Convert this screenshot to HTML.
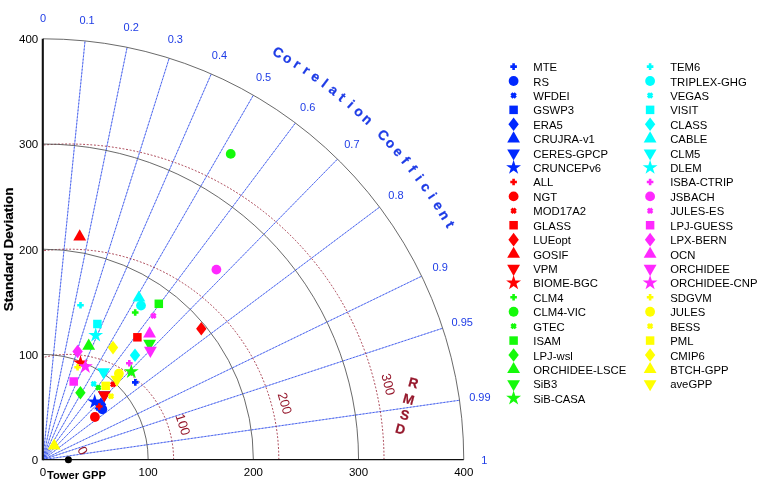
<!DOCTYPE html>
<html><head><meta charset="utf-8"><style>
html,body{margin:0;padding:0;background:#fff;width:759px;height:485px;overflow:hidden}
svg text{font-family:"Liberation Sans", sans-serif}
</style></head><body>
<svg width="759" height="485" viewBox="0 0 759 485" style="position:absolute;left:0;top:0;will-change:transform">
<rect width="759" height="485" fill="#fff"/>
<path d="M42.95 459.6L85.03 40.91M42.95 459.6L127.11 47.30M42.95 459.6L169.19 58.18M42.95 459.6L211.27 73.93M42.95 459.6L253.35 95.18M42.95 459.6L295.43 122.96M42.95 459.6L337.51 159.09M42.95 459.6L379.59 207.12M42.95 459.6L421.67 276.18M42.95 459.6L442.71 328.21M42.95 459.6L459.54 400.24" stroke="rgb(105,128,240)" stroke-width="0.7" fill="none"/>
<path d="M42.95 459.6L85.03 40.91M42.95 459.6L127.11 47.30M42.95 459.6L169.19 58.18M42.95 459.6L211.27 73.93M42.95 459.6L253.35 95.18M42.95 459.6L295.43 122.96M42.95 459.6L337.51 159.09M42.95 459.6L379.59 207.12M42.95 459.6L421.67 276.18M42.95 459.6L442.71 328.21M42.95 459.6L459.54 400.24" stroke="rgb(40,70,235)" stroke-width="0.7" stroke-dasharray="1.6 1.8" fill="none"/>
<path d="M173.60 459.6A105.20 105.20 0 0 0 42.95 357.52M278.80 459.6A210.40 210.40 0 0 0 42.95 250.74M384.00 459.6A315.60 315.60 0 0 0 42.95 145.03" stroke="rgb(150,25,45)" stroke-width="0.85" stroke-dasharray="1.8 1.8" fill="none"/>
<path d="M148.15 459.6A105.20 105.20 0 0 0 42.95 354.40M253.35 459.6A210.40 210.40 0 0 0 42.95 249.20M358.55 459.6A315.60 315.60 0 0 0 42.95 144.00M463.75 459.6A420.80 420.80 0 0 0 42.95 38.80" stroke="#444" stroke-width="0.8" fill="none"/>
<path d="M42.95 459.6H463.75" stroke="#111" stroke-width="1.4" fill="none"/>
<path d="M42.800000000000004 460.3V38.80" stroke="#111" stroke-width="2.1" fill="none"/>
<path d="M132.00 382.40H138.60M135.30 379.10V385.70" stroke="rgb(0,40,255)" stroke-width="2.6" fill="none"/>
<circle cx="102.30" cy="409.30" r="4.9" fill="rgb(0,40,255)"/>
<path d="M98.35 403.35L102.65 407.65M98.35 407.65L102.65 403.35" stroke="rgb(0,40,255)" stroke-width="3.0" fill="none"/>
<rect x="96.05" y="402.25" width="8.5" height="8.5" fill="rgb(0,40,255)"/>
<path d="M101.00 397.60L106.20 404.40L101.00 411.20L95.80 404.40Z" fill="rgb(0,40,255)"/>
<path d="M100.70 398.10L107.11 409.20L94.29 409.20Z" fill="rgb(0,40,255)"/>
<path d="M104.30 402.40L110.71 391.30L97.89 391.30Z" fill="rgb(0,40,255)"/>
<path d="M94.70 394.10L96.45 399.49L102.12 399.49L97.53 402.82L99.28 408.21L94.70 404.88L90.12 408.21L91.87 402.82L87.28 399.49L92.95 399.49Z" fill="rgb(0,40,255)"/>
<path d="M96.00 406.50H102.60M99.30 403.20V409.80" stroke="rgb(255,0,0)" stroke-width="2.6" fill="none"/>
<circle cx="94.90" cy="417.00" r="4.9" fill="rgb(255,0,0)"/>
<path d="M110.95 382.15L115.25 386.45M110.95 386.45L115.25 382.15" stroke="rgb(255,0,0)" stroke-width="3.0" fill="none"/>
<rect x="133.15" y="333.05" width="8.5" height="8.5" fill="rgb(255,0,0)"/>
<path d="M201.30 322.00L206.50 328.80L201.30 335.60L196.10 328.80Z" fill="rgb(255,0,0)"/>
<path d="M79.70 229.30L86.11 240.40L73.29 240.40Z" fill="rgb(255,0,0)"/>
<path d="M104.30 402.40L110.71 391.30L97.89 391.30Z" fill="rgb(255,0,0)"/>
<path d="M80.50 355.00L82.25 360.39L87.92 360.39L83.33 363.72L85.08 369.11L80.50 365.78L75.92 369.11L77.67 363.72L73.08 360.39L78.75 360.39Z" fill="rgb(255,0,0)"/>
<path d="M131.90 312.50H138.50M135.20 309.20V315.80" stroke="rgb(20,250,10)" stroke-width="2.6" fill="none"/>
<circle cx="230.70" cy="153.90" r="4.9" fill="rgb(20,250,10)"/>
<path d="M96.15 385.45L100.45 389.75M96.15 389.75L100.45 385.45" stroke="rgb(20,250,10)" stroke-width="3.0" fill="none"/>
<rect x="154.55" y="299.55" width="8.5" height="8.5" fill="rgb(20,250,10)"/>
<path d="M80.40 385.90L85.60 392.70L80.40 399.50L75.20 392.70Z" fill="rgb(20,250,10)"/>
<path d="M88.70 338.60L95.11 349.70L82.29 349.70Z" fill="rgb(20,250,10)"/>
<path d="M149.60 350.90L156.01 339.80L143.19 339.80Z" fill="rgb(20,250,10)"/>
<path d="M131.30 363.90L133.05 369.29L138.72 369.29L134.13 372.62L135.88 378.01L131.30 374.68L126.72 378.01L128.47 372.62L123.88 369.29L129.55 369.29Z" fill="rgb(20,250,10)"/>
<path d="M77.20 305.20H83.80M80.50 301.90V308.50" stroke="rgb(0,255,255)" stroke-width="2.6" fill="none"/>
<circle cx="141.00" cy="305.60" r="4.9" fill="rgb(0,255,255)"/>
<path d="M91.55 381.75L95.85 386.05M91.55 386.05L95.85 381.75" stroke="rgb(0,255,255)" stroke-width="3.0" fill="none"/>
<rect x="93.15" y="319.75" width="8.5" height="8.5" fill="rgb(0,255,255)"/>
<path d="M135.00 348.40L140.20 355.20L135.00 362.00L129.80 355.20Z" fill="rgb(0,255,255)"/>
<path d="M138.90 290.40L145.31 301.50L132.49 301.50Z" fill="rgb(0,255,255)"/>
<path d="M103.60 379.40L110.01 368.30L97.19 368.30Z" fill="rgb(0,255,255)"/>
<path d="M95.70 327.50L97.45 332.89L103.12 332.89L98.53 336.22L100.28 341.61L95.70 338.28L91.12 341.61L92.87 336.22L88.28 332.89L93.95 332.89Z" fill="rgb(0,255,255)"/>
<path d="M126.00 363.30H132.60M129.30 360.00V366.60" stroke="rgb(255,40,255)" stroke-width="2.6" fill="none"/>
<circle cx="216.40" cy="269.60" r="4.9" fill="rgb(255,40,255)"/>
<path d="M151.25 313.65L155.55 317.95M151.25 317.95L155.55 313.65" stroke="rgb(255,40,255)" stroke-width="3.0" fill="none"/>
<rect x="69.45" y="377.25" width="8.5" height="8.5" fill="rgb(255,40,255)"/>
<path d="M77.60 344.70L82.80 351.50L77.60 358.30L72.40 351.50Z" fill="rgb(255,40,255)"/>
<path d="M149.60 326.30L156.01 337.40L143.19 337.40Z" fill="rgb(255,40,255)"/>
<path d="M150.40 357.90L156.81 346.80L143.99 346.80Z" fill="rgb(255,40,255)"/>
<path d="M85.40 358.80L87.15 364.19L92.82 364.19L88.23 367.52L89.98 372.91L85.40 369.58L80.82 372.91L82.57 367.52L77.98 364.19L83.65 364.19Z" fill="rgb(255,40,255)"/>
<path d="M74.30 367.30H80.90M77.60 364.00V370.60" stroke="rgb(255,255,0)" stroke-width="2.6" fill="none"/>
<circle cx="118.90" cy="373.60" r="4.9" fill="rgb(255,255,0)"/>
<path d="M108.85 394.05L113.15 398.35M108.85 398.35L113.15 394.05" stroke="rgb(255,255,0)" stroke-width="3.0" fill="none"/>
<rect x="101.45" y="381.65" width="8.5" height="8.5" fill="rgb(255,255,0)"/>
<path d="M113.00 340.80L118.20 347.60L113.00 354.40L107.80 347.60Z" fill="rgb(255,255,0)"/>
<path d="M54.20 438.40L60.61 449.50L47.79 449.50Z" fill="rgb(255,255,0)"/>
<path d="M116.90 386.90L123.31 375.80L110.49 375.80Z" fill="rgb(255,255,0)"/>
<circle cx="68.4" cy="459.8" r="3.5" fill="#000"/>
<text x="38.20" y="463.92" font-size="11.5" text-anchor="end" fill="#000" font-weight="normal" >0</text>
<text x="38.20" y="358.72" font-size="11.5" text-anchor="end" fill="#000" font-weight="normal" >100</text>
<text x="38.20" y="253.52" font-size="11.5" text-anchor="end" fill="#000" font-weight="normal" >200</text>
<text x="38.20" y="148.32" font-size="11.5" text-anchor="end" fill="#000" font-weight="normal" >300</text>
<text x="38.20" y="43.12" font-size="11.5" text-anchor="end" fill="#000" font-weight="normal" >400</text>
<text x="42.95" y="475.90" font-size="11.5" text-anchor="middle" fill="#000" font-weight="normal" >0</text>
<text x="148.15" y="475.90" font-size="11.5" text-anchor="middle" fill="#000" font-weight="normal" >100</text>
<text x="253.35" y="475.90" font-size="11.5" text-anchor="middle" fill="#000" font-weight="normal" >200</text>
<text x="358.55" y="475.90" font-size="11.5" text-anchor="middle" fill="#000" font-weight="normal" >300</text>
<text x="463.75" y="475.90" font-size="11.5" text-anchor="middle" fill="#000" font-weight="normal" >400</text>
<text x="47.00" y="478.90" font-size="11.2" text-anchor="start" fill="#000" font-weight="bold" >Tower GPP</text>
<text transform="translate(13.3,249.3) rotate(-90)" font-size="13.6" font-weight="bold" text-anchor="middle" fill="#000" stroke="#000" stroke-width="0.2">Standard Deviation</text>
<text x="42.95" y="22.24" font-size="11" text-anchor="middle" fill="rgb(30,60,230)" font-weight="normal" >0</text>
<text x="87.08" y="24.45" font-size="11" text-anchor="middle" fill="rgb(30,60,230)" font-weight="normal" >0.1</text>
<text x="131.21" y="31.15" font-size="11" text-anchor="middle" fill="rgb(30,60,230)" font-weight="normal" >0.2</text>
<text x="175.34" y="42.56" font-size="11" text-anchor="middle" fill="rgb(30,60,230)" font-weight="normal" >0.3</text>
<text x="219.47" y="59.08" font-size="11" text-anchor="middle" fill="rgb(30,60,230)" font-weight="normal" >0.4</text>
<text x="263.60" y="81.36" font-size="11" text-anchor="middle" fill="rgb(30,60,230)" font-weight="normal" >0.5</text>
<text x="307.73" y="110.50" font-size="11" text-anchor="middle" fill="rgb(30,60,230)" font-weight="normal" >0.6</text>
<text x="351.86" y="148.39" font-size="11" text-anchor="middle" fill="rgb(30,60,230)" font-weight="normal" >0.7</text>
<text x="395.99" y="198.76" font-size="11" text-anchor="middle" fill="rgb(30,60,230)" font-weight="normal" >0.8</text>
<text x="440.12" y="271.18" font-size="11" text-anchor="middle" fill="rgb(30,60,230)" font-weight="normal" >0.9</text>
<text x="462.19" y="325.74" font-size="11" text-anchor="middle" fill="rgb(30,60,230)" font-weight="normal" >0.95</text>
<text x="479.84" y="401.28" font-size="11" text-anchor="middle" fill="rgb(30,60,230)" font-weight="normal" >0.99</text>
<text x="484.25" y="463.54" font-size="11" text-anchor="middle" fill="rgb(30,60,230)" font-weight="normal" >1</text>
<text transform="translate(278.10,52.31) rotate(30.00)" y="4.75" font-size="13.7" font-weight="bold" text-anchor="middle" fill="rgb(30,60,230)" stroke="rgb(30,60,230)" stroke-width="0.25">C</text>
<text transform="translate(287.73,58.02) rotate(31.36)" y="4.75" font-size="13.7" font-weight="bold" text-anchor="middle" fill="rgb(30,60,230)" stroke="rgb(30,60,230)" stroke-width="0.25">o</text>
<text transform="translate(297.21,63.96) rotate(32.73)" y="4.75" font-size="13.7" font-weight="bold" text-anchor="middle" fill="rgb(30,60,230)" stroke="rgb(30,60,230)" stroke-width="0.25">r</text>
<text transform="translate(306.56,70.12) rotate(34.09)" y="4.75" font-size="13.7" font-weight="bold" text-anchor="middle" fill="rgb(30,60,230)" stroke="rgb(30,60,230)" stroke-width="0.25">r</text>
<text transform="translate(315.75,76.50) rotate(35.45)" y="4.75" font-size="13.7" font-weight="bold" text-anchor="middle" fill="rgb(30,60,230)" stroke="rgb(30,60,230)" stroke-width="0.25">e</text>
<text transform="translate(324.79,83.11) rotate(36.82)" y="4.75" font-size="13.7" font-weight="bold" text-anchor="middle" fill="rgb(30,60,230)" stroke="rgb(30,60,230)" stroke-width="0.25">l</text>
<text transform="translate(333.67,89.92) rotate(38.18)" y="4.75" font-size="13.7" font-weight="bold" text-anchor="middle" fill="rgb(30,60,230)" stroke="rgb(30,60,230)" stroke-width="0.25">a</text>
<text transform="translate(342.39,96.94) rotate(39.55)" y="4.75" font-size="13.7" font-weight="bold" text-anchor="middle" fill="rgb(30,60,230)" stroke="rgb(30,60,230)" stroke-width="0.25">t</text>
<text transform="translate(350.93,104.17) rotate(40.91)" y="4.75" font-size="13.7" font-weight="bold" text-anchor="middle" fill="rgb(30,60,230)" stroke="rgb(30,60,230)" stroke-width="0.25">i</text>
<text transform="translate(359.30,111.60) rotate(42.27)" y="4.75" font-size="13.7" font-weight="bold" text-anchor="middle" fill="rgb(30,60,230)" stroke="rgb(30,60,230)" stroke-width="0.25">o</text>
<text transform="translate(367.49,119.23) rotate(43.64)" y="4.75" font-size="13.7" font-weight="bold" text-anchor="middle" fill="rgb(30,60,230)" stroke="rgb(30,60,230)" stroke-width="0.25">n</text>
<text transform="translate(383.32,135.06) rotate(46.36)" y="4.75" font-size="13.7" font-weight="bold" text-anchor="middle" fill="rgb(30,60,230)" stroke="rgb(30,60,230)" stroke-width="0.25">C</text>
<text transform="translate(390.95,143.25) rotate(47.73)" y="4.75" font-size="13.7" font-weight="bold" text-anchor="middle" fill="rgb(30,60,230)" stroke="rgb(30,60,230)" stroke-width="0.25">o</text>
<text transform="translate(398.38,151.62) rotate(49.09)" y="4.75" font-size="13.7" font-weight="bold" text-anchor="middle" fill="rgb(30,60,230)" stroke="rgb(30,60,230)" stroke-width="0.25">e</text>
<text transform="translate(405.61,160.16) rotate(50.45)" y="4.75" font-size="13.7" font-weight="bold" text-anchor="middle" fill="rgb(30,60,230)" stroke="rgb(30,60,230)" stroke-width="0.25">f</text>
<text transform="translate(412.63,168.88) rotate(51.82)" y="4.75" font-size="13.7" font-weight="bold" text-anchor="middle" fill="rgb(30,60,230)" stroke="rgb(30,60,230)" stroke-width="0.25">f</text>
<text transform="translate(419.44,177.76) rotate(53.18)" y="4.75" font-size="13.7" font-weight="bold" text-anchor="middle" fill="rgb(30,60,230)" stroke="rgb(30,60,230)" stroke-width="0.25">i</text>
<text transform="translate(426.05,186.80) rotate(54.55)" y="4.75" font-size="13.7" font-weight="bold" text-anchor="middle" fill="rgb(30,60,230)" stroke="rgb(30,60,230)" stroke-width="0.25">c</text>
<text transform="translate(432.43,195.99) rotate(55.91)" y="4.75" font-size="13.7" font-weight="bold" text-anchor="middle" fill="rgb(30,60,230)" stroke="rgb(30,60,230)" stroke-width="0.25">i</text>
<text transform="translate(438.59,205.34) rotate(57.27)" y="4.75" font-size="13.7" font-weight="bold" text-anchor="middle" fill="rgb(30,60,230)" stroke="rgb(30,60,230)" stroke-width="0.25">e</text>
<text transform="translate(444.53,214.82) rotate(58.64)" y="4.75" font-size="13.7" font-weight="bold" text-anchor="middle" fill="rgb(30,60,230)" stroke="rgb(30,60,230)" stroke-width="0.25">n</text>
<text transform="translate(450.24,224.45) rotate(60.00)" y="4.75" font-size="13.7" font-weight="bold" text-anchor="middle" fill="rgb(30,60,230)" stroke="rgb(30,60,230)" stroke-width="0.25">t</text>
<text transform="translate(82.9,450.5) rotate(62)" y="4.73" font-size="13.2" text-anchor="middle" fill="rgb(150,25,45)">0</text>
<text transform="translate(183.2,424.4) rotate(72)" y="4.73" font-size="13.2" text-anchor="middle" fill="rgb(150,25,45)">100</text>
<text transform="translate(285,403.2) rotate(74)" y="4.73" font-size="13.2" text-anchor="middle" fill="rgb(150,25,45)">200</text>
<text transform="translate(388.4,384.3) rotate(76)" y="4.73" font-size="13.2" text-anchor="middle" fill="rgb(150,25,45)">300</text>
<text transform="translate(413.5,382.6) rotate(15)" y="4.86" font-size="13.5" font-weight="bold" text-anchor="middle" fill="rgb(150,25,45)" stroke="rgb(150,25,45)" stroke-width="0.2">R</text>
<text transform="translate(408.8,398.9) rotate(15)" y="4.86" font-size="13.5" font-weight="bold" text-anchor="middle" fill="rgb(150,25,45)" stroke="rgb(150,25,45)" stroke-width="0.2">M</text>
<text transform="translate(404.9,414.8) rotate(15)" y="4.86" font-size="13.5" font-weight="bold" text-anchor="middle" fill="rgb(150,25,45)" stroke="rgb(150,25,45)" stroke-width="0.2">S</text>
<text transform="translate(400.4,428.8) rotate(15)" y="4.86" font-size="13.5" font-weight="bold" text-anchor="middle" fill="rgb(150,25,45)" stroke="rgb(150,25,45)" stroke-width="0.2">D</text>
<path d="M510.30 66.60H516.90M513.60 63.30V69.90" stroke="rgb(0,40,255)" stroke-width="2.6" fill="none"/>
<text x="533.30" y="71.11" font-size="11.3" text-anchor="start" fill="#000" font-weight="normal" >MTE</text>
<circle cx="513.60" cy="81.02" r="4.9" fill="rgb(0,40,255)"/>
<text x="533.30" y="85.53" font-size="11.3" text-anchor="start" fill="#000" font-weight="normal" >RS</text>
<path d="M511.45 93.29L515.75 97.59M511.45 97.59L515.75 93.29" stroke="rgb(0,40,255)" stroke-width="3.0" fill="none"/>
<text x="533.30" y="99.95" font-size="11.3" text-anchor="start" fill="#000" font-weight="normal" >WFDEI</text>
<rect x="509.35" y="105.61" width="8.5" height="8.5" fill="rgb(0,40,255)"/>
<text x="533.30" y="114.37" font-size="11.3" text-anchor="start" fill="#000" font-weight="normal" >GSWP3</text>
<path d="M513.60 117.48L518.80 124.28L513.60 131.08L508.40 124.28Z" fill="rgb(0,40,255)"/>
<text x="533.30" y="128.79" font-size="11.3" text-anchor="start" fill="#000" font-weight="normal" >ERA5</text>
<path d="M513.60 131.30L520.01 142.40L507.19 142.40Z" fill="rgb(0,40,255)"/>
<text x="533.30" y="143.21" font-size="11.3" text-anchor="start" fill="#000" font-weight="normal" >CRUJRA-v1</text>
<path d="M513.60 160.52L520.01 149.42L507.19 149.42Z" fill="rgb(0,40,255)"/>
<text x="533.30" y="157.63" font-size="11.3" text-anchor="start" fill="#000" font-weight="normal" >CERES-GPCP</text>
<path d="M513.60 159.74L515.35 165.13L521.02 165.13L516.43 168.46L518.18 173.85L513.60 170.52L509.02 173.85L510.77 168.46L506.18 165.13L511.85 165.13Z" fill="rgb(0,40,255)"/>
<text x="533.30" y="172.05" font-size="11.3" text-anchor="start" fill="#000" font-weight="normal" >CRUNCEPv6</text>
<path d="M510.30 181.96H516.90M513.60 178.66V185.26" stroke="rgb(255,0,0)" stroke-width="2.6" fill="none"/>
<text x="533.30" y="186.47" font-size="11.3" text-anchor="start" fill="#000" font-weight="normal" >ALL</text>
<circle cx="513.60" cy="196.38" r="4.9" fill="rgb(255,0,0)"/>
<text x="533.30" y="200.89" font-size="11.3" text-anchor="start" fill="#000" font-weight="normal" >NGT</text>
<path d="M511.45 208.65L515.75 212.95M511.45 212.95L515.75 208.65" stroke="rgb(255,0,0)" stroke-width="3.0" fill="none"/>
<text x="533.30" y="215.31" font-size="11.3" text-anchor="start" fill="#000" font-weight="normal" >MOD17A2</text>
<rect x="509.35" y="220.97" width="8.5" height="8.5" fill="rgb(255,0,0)"/>
<text x="533.30" y="229.73" font-size="11.3" text-anchor="start" fill="#000" font-weight="normal" >GLASS</text>
<path d="M513.60 232.84L518.80 239.64L513.60 246.44L508.40 239.64Z" fill="rgb(255,0,0)"/>
<text x="533.30" y="244.15" font-size="11.3" text-anchor="start" fill="#000" font-weight="normal" >LUEopt</text>
<path d="M513.60 246.66L520.01 257.76L507.19 257.76Z" fill="rgb(255,0,0)"/>
<text x="533.30" y="258.57" font-size="11.3" text-anchor="start" fill="#000" font-weight="normal" >GOSIF</text>
<path d="M513.60 275.88L520.01 264.78L507.19 264.78Z" fill="rgb(255,0,0)"/>
<text x="533.30" y="272.99" font-size="11.3" text-anchor="start" fill="#000" font-weight="normal" >VPM</text>
<path d="M513.60 275.10L515.35 280.49L521.02 280.49L516.43 283.82L518.18 289.21L513.60 285.88L509.02 289.21L510.77 283.82L506.18 280.49L511.85 280.49Z" fill="rgb(255,0,0)"/>
<text x="533.30" y="287.41" font-size="11.3" text-anchor="start" fill="#000" font-weight="normal" >BIOME-BGC</text>
<path d="M510.30 297.32H516.90M513.60 294.02V300.62" stroke="rgb(20,250,10)" stroke-width="2.6" fill="none"/>
<text x="533.30" y="301.83" font-size="11.3" text-anchor="start" fill="#000" font-weight="normal" >CLM4</text>
<circle cx="513.60" cy="311.74" r="4.9" fill="rgb(20,250,10)"/>
<text x="533.30" y="316.25" font-size="11.3" text-anchor="start" fill="#000" font-weight="normal" >CLM4-VIC</text>
<path d="M511.45 324.01L515.75 328.31M511.45 328.31L515.75 324.01" stroke="rgb(20,250,10)" stroke-width="3.0" fill="none"/>
<text x="533.30" y="330.67" font-size="11.3" text-anchor="start" fill="#000" font-weight="normal" >GTEC</text>
<rect x="509.35" y="336.33" width="8.5" height="8.5" fill="rgb(20,250,10)"/>
<text x="533.30" y="345.09" font-size="11.3" text-anchor="start" fill="#000" font-weight="normal" >ISAM</text>
<path d="M513.60 348.20L518.80 355.00L513.60 361.80L508.40 355.00Z" fill="rgb(20,250,10)"/>
<text x="533.30" y="359.51" font-size="11.3" text-anchor="start" fill="#000" font-weight="normal" >LPJ-wsl</text>
<path d="M513.60 362.02L520.01 373.12L507.19 373.12Z" fill="rgb(20,250,10)"/>
<text x="533.30" y="373.93" font-size="11.3" text-anchor="start" fill="#000" font-weight="normal" >ORCHIDEE-LSCE</text>
<path d="M513.60 391.24L520.01 380.14L507.19 380.14Z" fill="rgb(20,250,10)"/>
<text x="533.30" y="388.35" font-size="11.3" text-anchor="start" fill="#000" font-weight="normal" >SiB3</text>
<path d="M513.60 390.46L515.35 395.85L521.02 395.85L516.43 399.18L518.18 404.57L513.60 401.24L509.02 404.57L510.77 399.18L506.18 395.85L511.85 395.85Z" fill="rgb(20,250,10)"/>
<text x="533.30" y="402.77" font-size="11.3" text-anchor="start" fill="#000" font-weight="normal" >SiB-CASA</text>
<path d="M646.80 66.60H653.40M650.10 63.30V69.90" stroke="rgb(0,255,255)" stroke-width="2.6" fill="none"/>
<text x="670.20" y="71.11" font-size="11.3" text-anchor="start" fill="#000" font-weight="normal" >TEM6</text>
<circle cx="650.10" cy="81.02" r="4.9" fill="rgb(0,255,255)"/>
<text x="670.20" y="85.53" font-size="11.3" text-anchor="start" fill="#000" font-weight="normal" >TRIPLEX-GHG</text>
<path d="M647.95 93.29L652.25 97.59M647.95 97.59L652.25 93.29" stroke="rgb(0,255,255)" stroke-width="3.0" fill="none"/>
<text x="670.20" y="99.95" font-size="11.3" text-anchor="start" fill="#000" font-weight="normal" >VEGAS</text>
<rect x="645.85" y="105.61" width="8.5" height="8.5" fill="rgb(0,255,255)"/>
<text x="670.20" y="114.37" font-size="11.3" text-anchor="start" fill="#000" font-weight="normal" >VISIT</text>
<path d="M650.10 117.48L655.30 124.28L650.10 131.08L644.90 124.28Z" fill="rgb(0,255,255)"/>
<text x="670.20" y="128.79" font-size="11.3" text-anchor="start" fill="#000" font-weight="normal" >CLASS</text>
<path d="M650.10 131.30L656.51 142.40L643.69 142.40Z" fill="rgb(0,255,255)"/>
<text x="670.20" y="143.21" font-size="11.3" text-anchor="start" fill="#000" font-weight="normal" >CABLE</text>
<path d="M650.10 160.52L656.51 149.42L643.69 149.42Z" fill="rgb(0,255,255)"/>
<text x="670.20" y="157.63" font-size="11.3" text-anchor="start" fill="#000" font-weight="normal" >CLM5</text>
<path d="M650.10 159.74L651.85 165.13L657.52 165.13L652.93 168.46L654.68 173.85L650.10 170.52L645.52 173.85L647.27 168.46L642.68 165.13L648.35 165.13Z" fill="rgb(0,255,255)"/>
<text x="670.20" y="172.05" font-size="11.3" text-anchor="start" fill="#000" font-weight="normal" >DLEM</text>
<path d="M646.80 181.96H653.40M650.10 178.66V185.26" stroke="rgb(255,40,255)" stroke-width="2.6" fill="none"/>
<text x="670.20" y="186.47" font-size="11.3" text-anchor="start" fill="#000" font-weight="normal" >ISBA-CTRIP</text>
<circle cx="650.10" cy="196.38" r="4.9" fill="rgb(255,40,255)"/>
<text x="670.20" y="200.89" font-size="11.3" text-anchor="start" fill="#000" font-weight="normal" >JSBACH</text>
<path d="M647.95 208.65L652.25 212.95M647.95 212.95L652.25 208.65" stroke="rgb(255,40,255)" stroke-width="3.0" fill="none"/>
<text x="670.20" y="215.31" font-size="11.3" text-anchor="start" fill="#000" font-weight="normal" >JULES-ES</text>
<rect x="645.85" y="220.97" width="8.5" height="8.5" fill="rgb(255,40,255)"/>
<text x="670.20" y="229.73" font-size="11.3" text-anchor="start" fill="#000" font-weight="normal" >LPJ-GUESS</text>
<path d="M650.10 232.84L655.30 239.64L650.10 246.44L644.90 239.64Z" fill="rgb(255,40,255)"/>
<text x="670.20" y="244.15" font-size="11.3" text-anchor="start" fill="#000" font-weight="normal" >LPX-BERN</text>
<path d="M650.10 246.66L656.51 257.76L643.69 257.76Z" fill="rgb(255,40,255)"/>
<text x="670.20" y="258.57" font-size="11.3" text-anchor="start" fill="#000" font-weight="normal" >OCN</text>
<path d="M650.10 275.88L656.51 264.78L643.69 264.78Z" fill="rgb(255,40,255)"/>
<text x="670.20" y="272.99" font-size="11.3" text-anchor="start" fill="#000" font-weight="normal" >ORCHIDEE</text>
<path d="M650.10 275.10L651.85 280.49L657.52 280.49L652.93 283.82L654.68 289.21L650.10 285.88L645.52 289.21L647.27 283.82L642.68 280.49L648.35 280.49Z" fill="rgb(255,40,255)"/>
<text x="670.20" y="287.41" font-size="11.3" text-anchor="start" fill="#000" font-weight="normal" >ORCHIDEE-CNP</text>
<path d="M646.80 297.32H653.40M650.10 294.02V300.62" stroke="rgb(255,255,0)" stroke-width="2.6" fill="none"/>
<text x="670.20" y="301.83" font-size="11.3" text-anchor="start" fill="#000" font-weight="normal" >SDGVM</text>
<circle cx="650.10" cy="311.74" r="4.9" fill="rgb(255,255,0)"/>
<text x="670.20" y="316.25" font-size="11.3" text-anchor="start" fill="#000" font-weight="normal" >JULES</text>
<path d="M647.95 324.01L652.25 328.31M647.95 328.31L652.25 324.01" stroke="rgb(255,255,0)" stroke-width="3.0" fill="none"/>
<text x="670.20" y="330.67" font-size="11.3" text-anchor="start" fill="#000" font-weight="normal" >BESS</text>
<rect x="645.85" y="336.33" width="8.5" height="8.5" fill="rgb(255,255,0)"/>
<text x="670.20" y="345.09" font-size="11.3" text-anchor="start" fill="#000" font-weight="normal" >PML</text>
<path d="M650.10 348.20L655.30 355.00L650.10 361.80L644.90 355.00Z" fill="rgb(255,255,0)"/>
<text x="670.20" y="359.51" font-size="11.3" text-anchor="start" fill="#000" font-weight="normal" >CMIP6</text>
<path d="M650.10 362.02L656.51 373.12L643.69 373.12Z" fill="rgb(255,255,0)"/>
<text x="670.20" y="373.93" font-size="11.3" text-anchor="start" fill="#000" font-weight="normal" >BTCH-GPP</text>
<path d="M650.10 391.24L656.51 380.14L643.69 380.14Z" fill="rgb(255,255,0)"/>
<text x="670.20" y="388.35" font-size="11.3" text-anchor="start" fill="#000" font-weight="normal" >aveGPP</text>
</svg>
</body></html>
